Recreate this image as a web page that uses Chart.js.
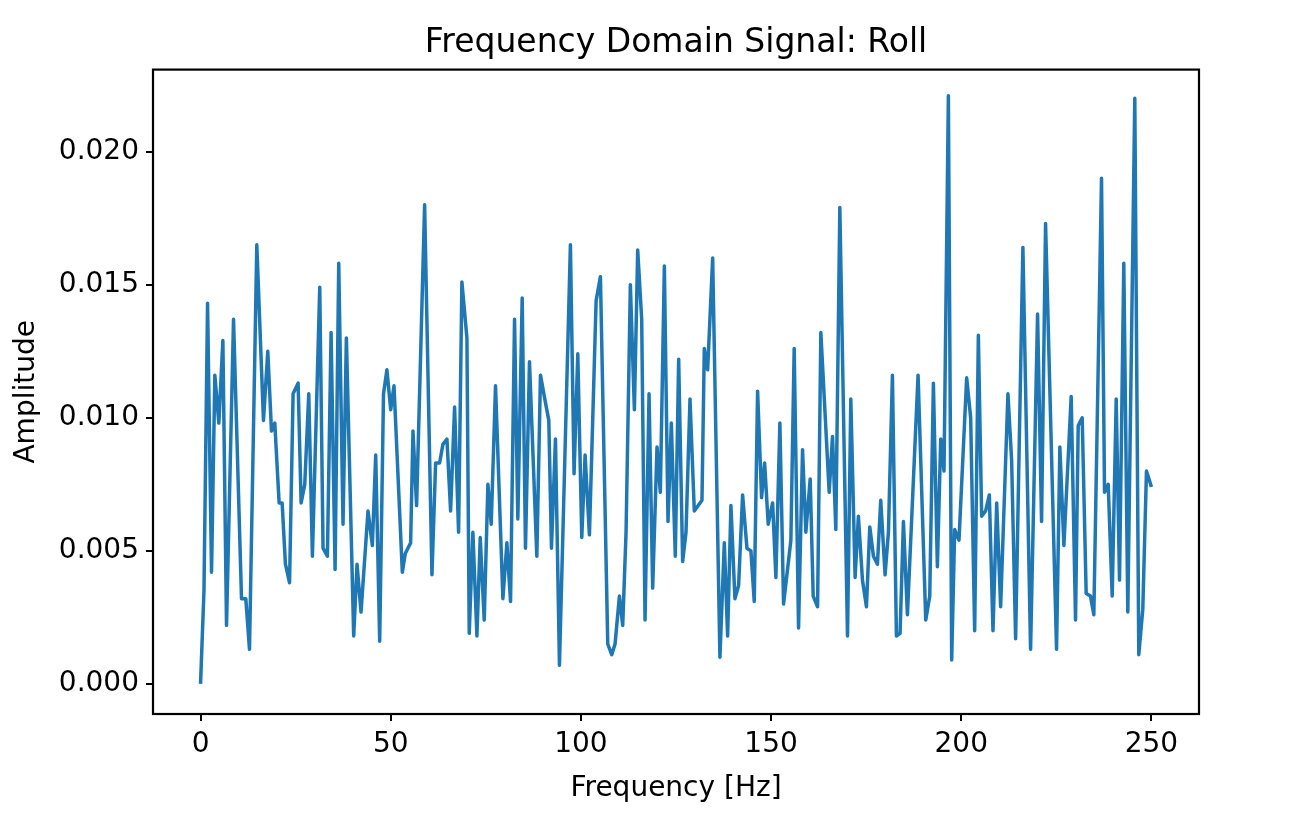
<!DOCTYPE html>
<html>
<head>
<meta charset="utf-8">
<script src="https://cdn.jsdelivr.net/npm/chart.js@4.4.1/dist/chart.umd.min.js"></script>
<style>
  html, body { margin: 0; padding: 0; background: #ffffff; }
  #wrap { width: 1296px; height: 824px; }
</style>
</head>
<body>
<div id="wrap"><canvas id="c" width="1296" height="824"></canvas></div>
<script>
// Frequency (Hz) of each visible vertex of the spectrum
const freqHz = [
  0, 0.9, 1.84, 2.89, 3.76, 4.81, 5.87, 6.83, 8.67, 10.77, 11.9, 12.87, 14.79, 16.54, 17.68, 18.65, 19.52,
  20.66, 21.45, 22.32, 23.4, 24.33, 25.65, 26.44, 27.4, 28.45, 29.41, 31.34, 32.21, 33.35, 34.32, 35.37,
  36.33, 37.46, 38.34, 40.27, 41.14, 42.19, 44.03, 45.17, 46.05, 47.1, 48.1, 49.0, 50.0, 50.86, 53.05,
  53.83, 55.23, 55.85, 56.8, 58.91, 60.84, 61.8, 62.85, 63.72, 64.78, 65.74, 66.79, 67.84, 68.71, 70.03,
  70.64, 71.6, 72.66, 73.53, 74.58, 75.55, 76.42, 77.55, 79.49, 80.54, 81.5, 82.55, 83.42, 84.56, 85.43,
  86.48, 88.41, 89.37, 90.51, 91.56, 92.26, 93.31, 94.36, 97.24, 98.2, 99.18, 100.23, 101.1, 102.24,
  104.0, 105.13, 107.06, 108.1, 108.98, 110.12, 110.99, 111.87, 113.0, 114.06, 114.93, 115.98, 116.86,
  117.91, 118.87, 120.01, 120.88, 121.94, 122.9, 123.77, 124.82, 125.7, 126.75, 127.63, 128.68, 129.81,
  131.83, 132.44, 133.32, 134.64, 136.55, 137.7, 138.57, 139.44, 140.49, 141.46, 142.51, 143.65, 144.7,
  145.57, 146.45, 147.5, 148.3, 149.24, 150.4, 151.26, 152.31, 153.28, 155.2, 156.07, 157.22, 158.27,
  159.14, 160.28, 161.07, 162.22, 163.08, 165.27, 166.15, 167.02, 168.07, 170.09, 170.96, 172.09, 172.95,
  174.02, 175.07, 175.95, 176.91, 177.96, 178.83, 179.97, 180.85, 181.9, 182.95, 183.91, 184.79, 185.84,
  188.64, 190.66, 191.71, 192.67, 193.72, 194.6, 195.46, 196.61, 197.48, 198.27, 199.4, 201.42, 202.47,
  203.52, 204.49, 205.36, 206.41, 207.38, 208.34, 209.31, 210.35, 212.27, 213.24, 214.29, 216.2, 218.22,
  220.06, 221.11, 222.16, 225.05, 225.92, 226.98, 228.9, 230.04, 230.74, 231.79, 232.84, 233.97, 234.85,
  236.87, 237.66, 238.63, 239.68, 240.73, 241.6, 242.73, 243.78, 245.62, 246.67, 247.72, 248.69, 250.0
];

// Amplitude at each vertex
const amplitude = [
  0, 0.0035, 0.0143, 0.0042, 0.0116, 0.0098, 0.0129, 0.0022, 0.0137, 0.0032, 0.0032, 0.0013, 0.0165, 0.0099, 0.0125, 0.0095, 0.0098,
  0.0068, 0.0068, 0.0045, 0.0038, 0.0109, 0.0113, 0.0068, 0.0075, 0.0109, 0.0048, 0.0149, 0.0051, 0.0048, 0.0132, 0.0043,
  0.0158, 0.0060, 0.0130, 0.0018, 0.0045, 0.0027, 0.0065, 0.0052, 0.0086, 0.0016, 0.0109, 0.0118, 0.0103, 0.0112, 0.0042,
  0.0049, 0.0053, 0.0095, 0.0067, 0.0180, 0.0041, 0.0083, 0.0083, 0.0090, 0.0092, 0.0065, 0.0104, 0.0057, 0.0151, 0.0130,
  0.0019, 0.0057, 0.0018, 0.0055, 0.0024, 0.0075, 0.0060, 0.0112, 0.0032, 0.0053, 0.0031, 0.0137, 0.0062, 0.0145, 0.0051,
  0.0121, 0.0048, 0.0116, 0.0107, 0.0099, 0.0051, 0.0092, 0.0007, 0.0165, 0.0079, 0.0124, 0.0055, 0.0086, 0.0056,
  0.0144, 0.0153, 0.0015, 0.0011, 0.0015, 0.0033, 0.0022, 0.0057, 0.0150, 0.0103, 0.0163, 0.0137, 0.0024,
  0.0109, 0.0036, 0.0089, 0.0072, 0.0157, 0.0061, 0.0098, 0.0048, 0.0122, 0.0046, 0.0057, 0.0107, 0.0065,
  0.0069, 0.0126, 0.0118, 0.0160, 0.0010, 0.0053, 0.0018, 0.0067, 0.0032, 0.0037, 0.0071, 0.0051, 0.0050,
  0.0031, 0.0110, 0.0070, 0.0083, 0.0060, 0.0068, 0.0040, 0.0098, 0.0030, 0.0054, 0.0126, 0.0021, 0.0088,
  0.0057, 0.0077, 0.0033, 0.0029, 0.0132, 0.0072, 0.0093, 0.0058, 0.0179, 0.0018, 0.0107, 0.0040, 0.0063,
  0.0039, 0.0029, 0.0059, 0.0048, 0.0045, 0.0069, 0.0041, 0.0057, 0.0116, 0.0018, 0.0019, 0.0061, 0.0026,
  0.0116, 0.0024, 0.0033, 0.0113, 0.0044, 0.0092, 0.0080, 0.0221, 0.0009, 0.0058, 0.0054, 0.0115, 0.0100,
  0.0020, 0.0131, 0.0063, 0.0065, 0.0071, 0.0020, 0.0068, 0.0029, 0.0109, 0.0084, 0.0017, 0.0164, 0.0013,
  0.0139, 0.0061, 0.0173, 0.0013, 0.0089, 0.0052, 0.0108, 0.0024, 0.0097, 0.0100, 0.0034, 0.0033, 0.0026,
  0.0190, 0.0072, 0.0075, 0.0033, 0.0107, 0.0039, 0.0158, 0.0027, 0.0220, 0.0011, 0.0028, 0.0080, 0.0074
];

const xTickValues = [0, 50, 100, 150, 200, 250];
const yTickValues = [0.000, 0.005, 0.010, 0.015, 0.020];

const titleText = 'Frequency Domain Signal: Roll';
const xLabel = 'Frequency [Hz]';
const yLabel = 'Amplitude';

const points = freqHz.map((f, i) => ({ x: f, y: amplitude[i] }));

const FONT = "'DejaVu Sans', 'Liberation Sans', sans-serif";

const framePlugin = {
  id: 'frame',
  afterDatasetsDraw(chart) {
    const { ctx, chartArea: a } = chart;
    ctx.save();
    ctx.strokeStyle = '#000';
    ctx.lineWidth = 2.2;
    ctx.strokeRect(a.left, a.top, a.right - a.left, a.bottom - a.top);
    ctx.restore();
  }
};

const bgPlugin = {
  id: 'bg',
  beforeDraw(chart) {
    const { ctx } = chart;
    ctx.save();
    ctx.fillStyle = '#ffffff';
    ctx.fillRect(0, 0, chart.width, chart.height);
    ctx.restore();
  }
};

new Chart(document.getElementById('c'), {
  type: 'line',
  data: {
    datasets: [{
      data: points,
      borderColor: '#1f77b4',
      borderWidth: 3.5,
      pointRadius: 0,
      tension: 0,
      fill: false,
      borderJoinStyle: 'round',
      borderCapStyle: 'butt'
    }]
  },
  options: {
    responsive: false,
    animation: false,
    devicePixelRatio: 1,
    layout: { padding: { left: 0, right: 97, top: 0, bottom: 0 } },
    plugins: {
      legend: { display: false },
      tooltip: { enabled: false },
      title: {
        display: true,
        fullSize: false,
        text: titleText,
        color: '#000',
        font: { family: FONT, size: 33, weight: 'normal' },
        padding: { top: 24, bottom: 6 }
      }
    },
    scales: {
      x: {
        type: 'linear',
        min: -12.5,
        max: 262.5,
        afterBuildTicks: s => { s.ticks = xTickValues.map(v => ({ value: v })); },
        afterFit: s => { s.height = 110; },
        border: { display: false },
        grid: { drawOnChartArea: false, drawTicks: true, tickLength: 7, color: '#000', lineWidth: 2 },
        ticks: {
          autoSkip: false, maxRotation: 0, padding: 7, color: '#000',
          font: { family: FONT, size: 28 },
          callback: v => String(v)
        },
        title: {
          display: true, text: xLabel, color: '#000',
          font: { family: FONT, size: 28 },
          padding: { top: 0, bottom: 18 }
        }
      },
      y: {
        type: 'linear',
        min: -0.00113,
        max: 0.02308,
        afterBuildTicks: s => { s.ticks = yTickValues.map(v => ({ value: v })); },
        afterFit: s => { s.width = 153; },
        border: { display: false },
        grid: { drawOnChartArea: false, drawTicks: true, tickLength: 7, color: '#000', lineWidth: 2 },
        ticks: {
          padding: 7, color: '#000',
          font: { family: FONT, size: 28 },
          callback: v => Number(v).toFixed(3)
        },
        title: {
          display: true, text: yLabel, color: '#000',
          font: { family: FONT, size: 28 },
          padding: { top: 10, bottom: 0 }
        }
      }
    }
  },
  plugins: [bgPlugin, framePlugin]
});
</script>
</body>
</html>
